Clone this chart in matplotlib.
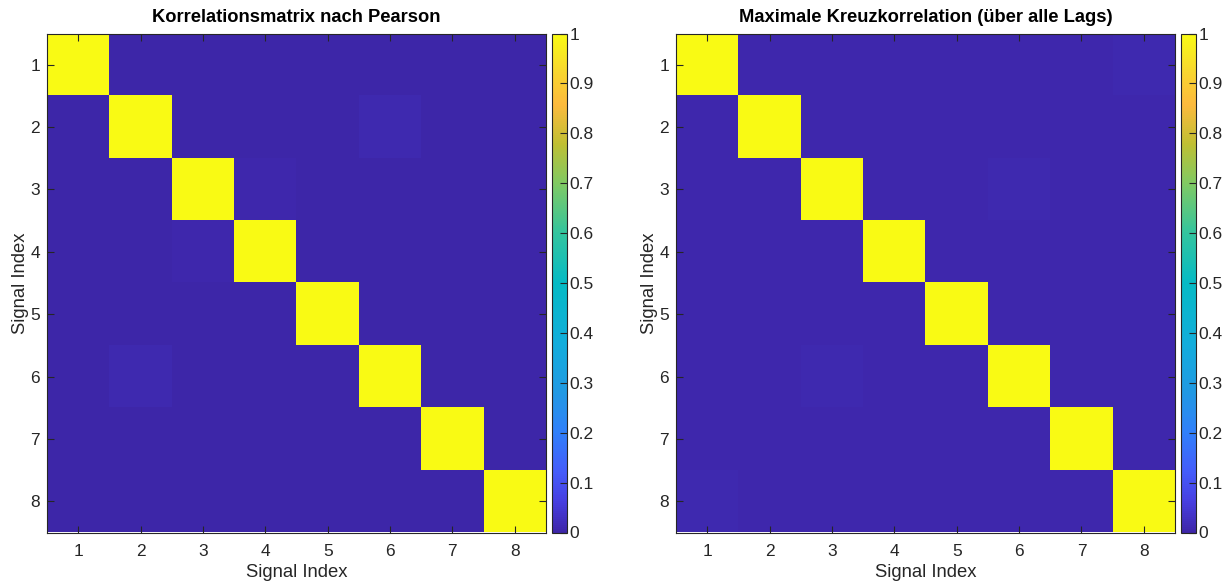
import numpy as np
import matplotlib.pyplot as plt
from matplotlib.colors import LinearSegmentedColormap

plt.rcParams['font.family'] = ['Liberation Sans', 'DejaVu Sans']

signals = [1, 2, 3, 4, 5, 6, 7, 8]

# Pearson correlation (colour axis fixed to [0, 1])
pearson = np.array([
    [1.000, 0.002, 0.001, 0.002, 0.001, 0.002, 0.001, 0.002],
    [0.002, 1.000, 0.002, 0.001, 0.002, 0.010, 0.002, 0.001],
    [0.001, 0.002, 1.000, 0.005, 0.002, 0.001, 0.002, 0.002],
    [0.002, 0.001, 0.005, 1.000, 0.002, 0.002, 0.001, 0.002],
    [0.001, 0.002, 0.002, 0.002, 1.000, 0.002, 0.002, 0.001],
    [0.002, 0.010, 0.001, 0.002, 0.002, 1.000, 0.002, 0.002],
    [0.001, 0.002, 0.002, 0.001, 0.002, 0.002, 1.000, 0.002],
    [0.002, 0.001, 0.002, 0.002, 0.001, 0.002, 0.002, 1.000],
])

# maximum cross-correlation over all lags
xcorr_max = np.array([
    [1.000, 0.006, 0.007, 0.006, 0.006, 0.007, 0.006, 0.008],
    [0.006, 1.000, 0.006, 0.007, 0.006, 0.007, 0.006, 0.006],
    [0.007, 0.006, 1.000, 0.006, 0.007, 0.008, 0.006, 0.006],
    [0.006, 0.007, 0.006, 1.000, 0.006, 0.006, 0.007, 0.007],
    [0.006, 0.006, 0.007, 0.006, 1.000, 0.007, 0.006, 0.006],
    [0.007, 0.007, 0.008, 0.006, 0.007, 1.000, 0.006, 0.006],
    [0.006, 0.006, 0.006, 0.007, 0.006, 0.006, 1.000, 0.007],
    [0.008, 0.006, 0.006, 0.007, 0.006, 0.006, 0.007, 1.000],
])

titles = ['Korrelationsmatrix nach Pearson', 'Maximale Kreuzkorrelation (über alle Lags)']

# parula-like colormap
parula = LinearSegmentedColormap.from_list('parula', [
    (0.00, (0.2422, 0.1504, 0.6603)),
    (0.06, (0.2780, 0.2440, 0.8800)),
    (0.12, (0.2700, 0.3600, 0.9800)),
    (0.20, (0.1900, 0.5000, 0.9800)),
    (0.28, (0.1300, 0.6000, 0.8900)),
    (0.38, (0.0700, 0.6800, 0.8600)),
    (0.50, (0.0200, 0.7300, 0.7700)),
    (0.60, (0.2000, 0.7700, 0.6200)),
    (0.70, (0.5000, 0.7900, 0.3900)),
    (0.78, (0.7500, 0.7500, 0.2000)),
    (0.86, (0.9900, 0.7300, 0.2400)),
    (0.93, (0.9700, 0.8500, 0.1800)),
    (1.00, (0.9769, 0.9839, 0.0805)),
], N=256)

fig = plt.figure(figsize=(12.3, 5.83), dpi=100)
W, H = 1230, 583
dark = '#262626'

axes_px = [(47, 499), (676, 499)]
cbar_px = [552, 1181]
top, bottom = 33.5, 532.5

for i, data in enumerate([pearson, xcorr_max]):
    x0, w = axes_px[i]
    ax = fig.add_axes([x0 / W, (H - bottom) / H, w / W, (bottom - top) / H])
    im = ax.imshow(data, cmap=parula, vmin=0, vmax=1, interpolation='nearest',
                   extent=[0.5, 8.5, 8.5, 0.5], aspect='auto')
    ax.set_xticks(signals)
    ax.set_yticks(signals)
    ax.tick_params(direction='in', top=True, right=True, length=5, width=0.8,
                   colors=dark, labelsize=12.5, labelcolor=dark)
    ax.tick_params(axis='x', pad=8)
    ax.tick_params(axis='y', pad=5)
    ax.set_xlabel('Signal Index', fontsize=13.3, color=dark, labelpad=4)
    ax.set_ylabel('Signal Index', fontsize=13.3, color=dark, labelpad=1)
    ax.set_title(titles[i], fontsize=13.2, fontweight='bold', pad=8)
    for s in ax.spines.values():
        s.set_color(dark)
        s.set_linewidth(0.8)

    cax = fig.add_axes([cbar_px[i] / W, (H - bottom) / H, 14.5 / W, (bottom - top) / H])
    cb = fig.colorbar(im, cax=cax)
    cb.set_ticks(np.round(np.arange(0, 1.01, 0.1), 1))
    cb.set_ticklabels(['0', '0.1', '0.2', '0.3', '0.4', '0.5', '0.6', '0.7', '0.8', '0.9', '1'])
    cax.tick_params(direction='in', length=5, width=0.8, colors=dark,
                    labelsize=12.5, labelcolor=dark, pad=2)
    cb.outline.set_edgecolor(dark)
    cb.outline.set_linewidth(0.8)

fig.savefig('out.png', dpi=100)
